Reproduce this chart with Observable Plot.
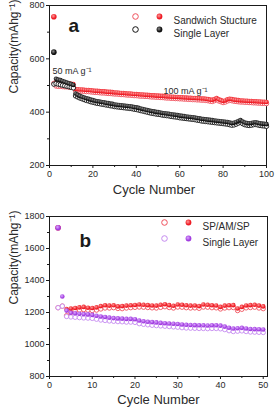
<!DOCTYPE html>
<html>
<head>
<meta charset="utf-8">
<script src="https://cdn.jsdelivr.net/npm/d3@7"></script>
<script src="https://cdn.jsdelivr.net/npm/@observablehq/plot@0.6"></script>
<style>
  html, body { margin: 0; padding: 0; background: #fff; }
  #wrap { width: 276px; height: 412px; overflow: hidden; }
  #wrap svg { display: block; }
</style>
</head>
<body>
<div id="wrap"></div>
<script>
// ---------- Panel a data (cycles 2..100) ----------
const cyclesA = d3.range(2, 101);
const sandFilledA = [758,
  512, 511, 511, 510, 509, 508, 507, 506, 505,
  487, 486, 485, 485, 484, 483, 483, 482, 481,
  480, 480, 479, 478, 478, 477, 476, 476, 475, 474,
  474, 473, 472, 472, 471, 470, 470, 469, 468, 468,
  467, 466, 466, 465, 465, 464, 463, 463, 462, 462,
  461, 461, 460, 459, 459, 458, 458, 457, 457, 456,
  456, 455, 455, 454, 454, 453, 453, 452, 452, 451,
  451, 450, 449, 447, 446, 449, 453, 448, 445, 442,
  444, 448, 450, 449, 447, 446, 445, 444, 444, 443,
  443, 442, 442, 441, 441, 440, 440, 439, 439, 438];
const sandOpenA = [508,
  498, 497, 497, 496, 495, 495, 494, 494, 493,
  481, 480, 479, 479, 478, 477, 477, 476, 475,
  474, 474, 473, 472, 472, 471, 470, 470, 469, 468,
  468, 467, 466, 466, 465, 464, 464, 463, 462, 462,
  461, 460, 460, 459, 459, 458, 457, 457, 456, 456,
  455, 455, 454, 453, 453, 452, 452, 451, 451, 450,
  450, 449, 449, 448, 448, 447, 447, 446, 446, 445,
  445, 444, 443, 441, 440, 443, 447, 442, 439, 436,
  438, 442, 444, 443, 441, 440, 439, 438, 438, 437,
  437, 436, 436, 435, 435, 434, 434, 433, 433, 432];
const singleFilledA = [625,
  525, 522, 520, 517, 514, 511, 508, 505, 502,
  470, 465, 461, 458, 455, 452, 450, 447, 445,
  443, 441, 440, 438, 437, 435, 434, 432, 431, 429,
  428, 427, 426, 425, 424, 423, 422, 421, 419, 418,
  416, 414, 412, 410, 408, 406, 404, 403, 401, 400,
  399, 397, 396, 395, 394, 392, 391, 390, 389, 387,
  386, 385, 384, 383, 382, 381, 380, 378, 377, 375,
  374, 373, 372, 371, 370, 369, 368, 367, 366, 365,
  364, 363, 361, 359, 360, 363, 367, 370, 365, 361,
  359, 358, 359, 361, 362, 360, 358, 357, 356, 355];
const singleOpenA = [505,
  507, 505, 503, 501, 499, 497, 495, 493, 491,
  461, 457, 453, 450, 447, 444, 442, 439, 437,
  435, 433, 432, 430, 429, 427, 426, 424, 423, 421,
  420, 419, 418, 417, 416, 415, 414, 413, 411, 410,
  408, 406, 404, 402, 400, 398, 396, 395, 393, 392,
  391, 389, 388, 387, 386, 384, 383, 382, 381, 379,
  378, 377, 376, 375, 374, 373, 372, 370, 369, 367,
  366, 365, 364, 363, 362, 361, 360, 359, 358, 357,
  356, 355, 353, 351, 352, 355, 359, 362, 357, 353,
  351, 350, 351, 353, 354, 352, 350, 349, 348, 347];
const xTicksA = [0, 20, 40, 60, 80, 100];
const xMinorA = [10, 30, 50, 70, 90];
const yTicksA = [200, 400, 600, 800];
const yMinorA = [300, 500, 700];
const seriesNamesA = ["Sandwich Stucture", "Single Layer"];
const rateLabelsA = ["50 mA g\u207B\u00B9", "100 mA g\u207B\u00B9"];

// ---------- Panel b data (cycles 2..50) ----------
const cyclesB = d3.range(2, 51);
const spFilledB = [1730, null,
  1222, 1225, 1228, 1232, 1235, 1230, 1228,
  1232, 1240, 1245, 1243, 1245, 1238, 1240, 1243, 1245, 1247,
  1250, 1248, 1246, 1244, 1243, 1248, 1252, 1246, 1242, 1250,
  1248, 1245, 1243, 1244, 1240, 1250, 1248, 1245, 1244, 1235,
  1243, 1245, 1246, 1225, 1235, 1244, 1246, 1248, 1243, 1238];
const spOpenB = [1230, 1240,
  1180, 1200, 1210, 1215, 1218, 1215, 1212,
  1215, 1222, 1228, 1228, 1230, 1225, 1224, 1228, 1230, 1232,
  1234, 1233, 1231, 1229, 1228, 1232, 1236, 1231, 1228, 1234,
  1233, 1230, 1228, 1229, 1226, 1234, 1233, 1230, 1229, 1222,
  1228, 1230, 1231, 1212, 1220, 1229, 1231, 1233, 1228, 1224];
const singleFilledB = [1730, 1300,
  1212, 1198, 1195, 1192, 1190, 1188, 1185,
  1180, 1175, 1172, 1168, 1165, 1163, 1162, 1160, 1160, 1158,
  1150, 1145, 1142, 1140, 1138, 1135, 1133, 1131, 1130, 1128,
  1125, 1123, 1122, 1121, 1120, 1120, 1119, 1120, 1120, 1118,
  1112, 1105, 1100, 1102, 1104, 1100, 1097, 1096, 1095, 1094];
const singleOpenB = [1230, 1240,
  1175, 1172, 1170, 1168, 1166, 1165, 1163,
  1158, 1153, 1150, 1147, 1145, 1143, 1142, 1140, 1140, 1138,
  1130, 1126, 1123, 1120, 1118, 1116, 1114, 1112, 1110, 1108,
  1105, 1103, 1102, 1101, 1100, 1100, 1099, 1100, 1100, 1098,
  1093, 1086, 1081, 1083, 1085, 1081, 1078, 1077, 1076, 1075];
const xTicksB = [0, 10, 20, 30, 40, 50];
const xMinorB = [5, 15, 25, 35, 45];
const yTicksB = [800, 1000, 1200, 1400, 1600, 1800];
const yMinorB = [900, 1100, 1300, 1500, 1700];
const seriesNamesB = ["SP/AM/SP", "Single Layer"];

// ---------- styling ----------
const FONT = "'Liberation Sans', Arial, Helvetica, sans-serif";
const RED = "#ee1c25", RED_OPEN = "#f0505c";
const BLACK = "#111111", BLACK_OPEN = "#111111";
const PURPLE = "#a23ee0", PURPLE_OPEN = "#c58af0";
const INK = "#1a1a1a";
const TXT = "#2a2a2a";

const tableA = cyclesA.map((c, i) => ({cycle: c, sf: sandFilledA[i], so: sandOpenA[i], lf: singleFilledA[i], lo: singleOpenA[i]}));
const tableB = cyclesB.map((c, i) => ({cycle: c, sf: spFilledB[i], so: spOpenB[i], lf: singleFilledB[i], lo: singleOpenB[i]}));

function gradDefs(svg, defs) {
  const d = d3.select(svg).insert("defs", ":first-child");
  defs.forEach(([id, light, col]) => {
    const g = d.append("radialGradient").attr("id", id).attr("cx", "40%").attr("cy", "38%").attr("r", "60%");
    g.append("stop").attr("offset", "0%").attr("stop-color", light);
    g.append("stop").attr("offset", "75%").attr("stop-color", col);
  });
}

const fmtInt = d3.format("d");

function axes(xT, xM, yT, yM) {
  return [
    Plot.frame({stroke: INK, strokeWidth: 1}),
    Plot.axisX(xT, {tickSize: 3, tickPadding: 2, fontSize: 9, label: null, stroke: INK, fill: TXT, tickFormat: fmtInt}),
    Plot.axisX(xM, {tickSize: 2, tickFormat: () => "", label: null, stroke: INK}),
    Plot.axisY(yT, {tickSize: 3, tickPadding: 2, fontSize: 9, label: null, stroke: INK, fill: TXT, tickFormat: fmtInt}),
    Plot.axisY(yM, {tickSize: 2, tickFormat: () => "", label: null, stroke: INK})
  ];
}

function seriesMarks(table, filledCol, openCol, fillUrl, openStroke) {
  return [
    Plot.dot(table.filter(d => d[openCol] != null), {x: "cycle", y: openCol, r: 2.2, fill: "white", stroke: openStroke, strokeWidth: 0.9}),
    Plot.dot(table.filter((d, i) => i > 0 && d[filledCol] != null), {x: "cycle", y: filledCol, r: 2.3, fill: fillUrl, stroke: "none"}),
    Plot.dot(table.filter((d, i) => i === 0 && d[filledCol] != null), {x: "cycle", y: filledCol, r: 2.8, fill: fillUrl, stroke: "none"})
  ];
}

function legendRow(name, dxOpen, dxFilled, dxText, dy, openStroke, fillUrl) {
  return [
    Plot.dot([name], {frameAnchor: "top-left", dx: dxOpen, dy, r: 2.8, fill: "white", stroke: openStroke, strokeWidth: 1}),
    Plot.dot([name], {frameAnchor: "top-left", dx: dxFilled, dy, r: 2.9, fill: fillUrl, stroke: "none"}),
    Plot.text([name], {text: d => d, frameAnchor: "top-left", dx: dxText, dy, textAnchor: "start", fontSize: 10, fill: TXT})
  ];
}

// ---------- Panel a ----------
const plotA = Plot.plot({
  width: 276, height: 206,
  marginLeft: 49, marginRight: 10, marginTop: 5, marginBottom: 41,
  style: {fontFamily: FONT, background: "white", color: INK, overflow: "visible"},
  x: {domain: [0, 100], label: null},
  y: {domain: [200, 800], label: null},
  marks: [
    ...axes(xTicksA, xMinorA, yTicksA, yMinorA),
    ...seriesMarks(tableA, "sf", "so", "url(#gRedA)", RED_OPEN),
    ...seriesMarks(tableA, "lf", "lo", "url(#gBlackA)", BLACK_OPEN),
    ...legendRow(seriesNamesA[0], 86, 110, 124, 11, RED_OPEN, "url(#gRedA)"),
    ...legendRow(seriesNamesA[1], 86, 110, 124, 24, BLACK_OPEN, "url(#gBlackA)"),
    Plot.text(["a"], {text: d => d, frameAnchor: "top-left", dx: 19, dy: 13, fontSize: 19, fontWeight: "bold", fill: INK}),
    Plot.text([rateLabelsA[0]], {text: d => d, frameAnchor: "top-left", dx: 3, dy: 62, textAnchor: "start", fontSize: 9, fill: TXT}),
    Plot.text([rateLabelsA[1]], {text: d => d, frameAnchor: "top-left", dx: 114, dy: 82, textAnchor: "start", fontSize: 9, fill: TXT}),
    Plot.text(["Cycle Number"], {text: d => d, frameAnchor: "bottom", dx: -4, dy: 28, fontSize: 13, fill: TXT}),
    Plot.text(["Capacity(mAhg\u207B\u00B9)"], {text: d => d, frameAnchor: "left", dx: -35, dy: 8, rotate: -90, fontSize: 12, fill: TXT})
  ]
});
gradDefs(plotA, [["gRedA", "#ff9a9a", RED], ["gBlackA", "#8a8a8a", BLACK]]);

// ---------- Panel b ----------
const plotB = Plot.plot({
  width: 276, height: 206,
  marginLeft: 49, marginRight: 9, marginTop: 10, marginBottom: 36,
  style: {fontFamily: FONT, background: "white", color: INK, overflow: "visible"},
  x: {domain: [0, 51], label: null},
  y: {domain: [800, 1800], label: null},
  marks: [
    ...axes(xTicksB, xMinorB, yTicksB, yMinorB),
    ...seriesMarks(tableB, "sf", "so", "url(#gRedB)", RED_OPEN),
    ...seriesMarks(tableB, "lf", "lo", "url(#gPurpleB)", PURPLE_OPEN),
    ...legendRow(seriesNamesB[0], 115, 139, 153, 6, RED_OPEN, "url(#gRedB)"),
    ...legendRow(seriesNamesB[1], 115, 139, 153, 22, PURPLE_OPEN, "url(#gPurpleB)"),
    Plot.text(["b"], {text: d => d, frameAnchor: "top-left", dx: 30, dy: 17, fontSize: 19, fontWeight: "bold", fill: INK}),
    Plot.text(["Cycle Number"], {text: d => d, frameAnchor: "bottom", dx: 0, dy: 27, fontSize: 13, fill: TXT}),
    Plot.text(["Capacity(mAhg\u207B\u00B9)"], {text: d => d, frameAnchor: "left", dx: -35, dy: 8, rotate: -90, fontSize: 12, fill: TXT})
  ]
});
gradDefs(plotB, [["gRedB", "#ff9a9a", RED], ["gPurpleB", "#dba8ff", PURPLE]]);

document.getElementById("wrap").append(plotA, plotB);
</script>
</body>
</html>
